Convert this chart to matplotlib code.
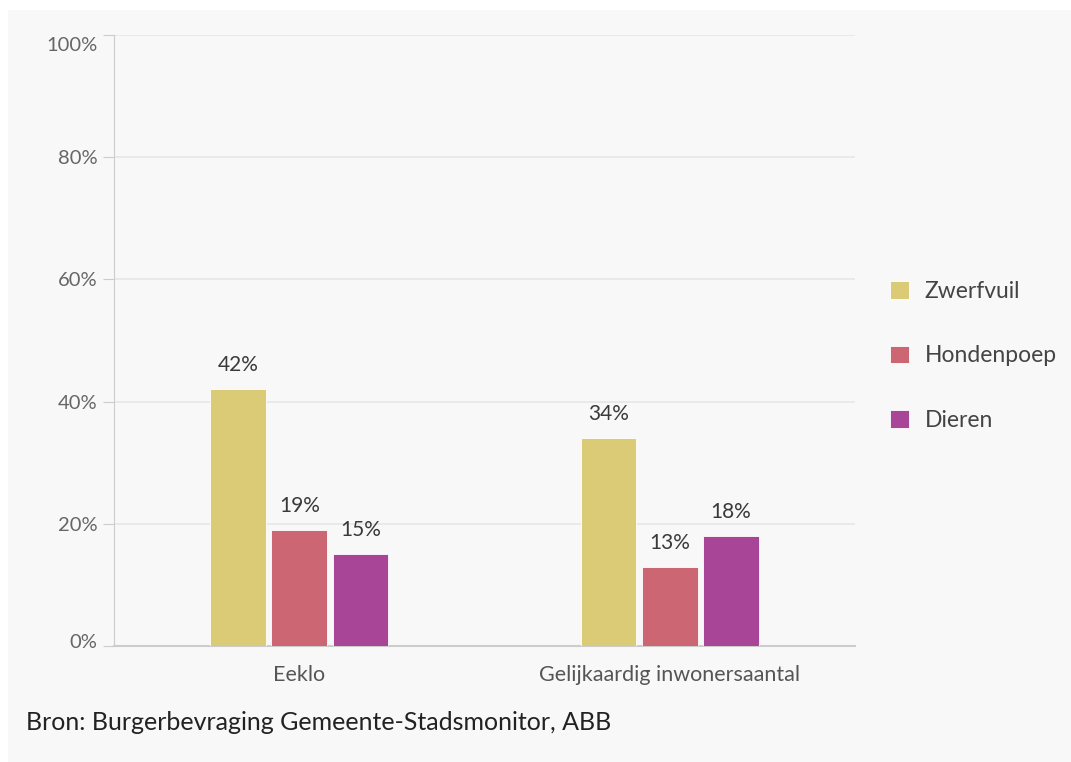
import matplotlib

matplotlib.use("Agg")
import matplotlib.pyplot as plt
import matplotlib.transforms as mtransforms
from matplotlib.patches import Rectangle
import numpy as np

categories = ["Eeklo", "Gelijkaardig inwonersaantal"]
series_names = ["Zwerfvuil", "Hondenpoep", "Dieren"]
zwerfvuil = [42, 34]
hondenpoep = [19, 13]
dieren = [15, 18]
yticks = [0, 20, 40, 60, 80, 100]

colors = ["#dccb76", "#cc6672", "#a84596"]
plt.rcParams["font.family"] = ["Lato", "DejaVu Sans"]

W, H = 1071, 762
fig = plt.figure(figsize=(W / 100, H / 100), dpi=100)
fig.patch.set_facecolor("white")
fig.patches.append(Rectangle((8 / W, 0), 1 - 8 / W, 1 - 10 / H, transform=fig.transFigure,
                             facecolor="#f8f8f8", edgecolor="none", zorder=-10))

ax = fig.add_axes([114 / W, 1 - 646 / H, (855 - 114) / W, (646 - 35) / H])
ax.set_facecolor("#f8f8f8")

x = np.arange(len(categories))
bw = 0.15
step = 0.165
for i, (name, vals) in enumerate(zip(series_names, [zwerfvuil, hondenpoep, dieren])):
    pos = x + (i - 1) * step
    ax.bar(pos, vals, width=bw, color=colors[i], edgecolor="white", linewidth=0.6,
           label=name, zorder=3)
    for px, v in zip(pos, vals):
        ax.text(px, v + 2.3, f"{v}%", ha="center", va="bottom", fontsize=15,
                color="#3a3a3a", zorder=4)

ax.set_xlim(-0.5, 1.5)
ax.set_ylim(0, 100)
ax.set_yticks(yticks)
ax.set_yticklabels([f"{t}%" for t in yticks], fontsize=14.5, color="#666666")
ax.set_xticks(x)
ax.set_xticklabels(categories, fontsize=15.5, color="#555555")
ax.tick_params(axis="x", length=0, pad=14)
ax.tick_params(axis="y", length=8, color="#cccccc", pad=4)
ax.grid(axis="y", color="#e6e6e6", linewidth=1.2, zorder=0)
for s in ["top", "right"]:
    ax.spines[s].set_visible(False)
ax.spines["left"].set_color("#cccccc")
ax.spines["bottom"].set_color("#cccccc")
ax.spines["bottom"].set_linewidth(1.5)

# outer tick labels sit slightly inside the axis range
labels = ax.get_yticklabels()
labels[0].set_transform(labels[0].get_transform()
                        + mtransforms.ScaledTranslation(0, 5 / 100, fig.dpi_scale_trans))
labels[-1].set_transform(labels[-1].get_transform()
                         + mtransforms.ScaledTranslation(0, -9 / 100, fig.dpi_scale_trans))

ax.legend(loc="center left", bbox_to_anchor=(1.02, 0.475), frameon=False, fontsize=16.5,
          handlelength=0.8, handleheight=0.8, handletextpad=0.7, labelspacing=1.9,
          labelcolor="#444444")

fig.text(26 / W, 1 - 723 / H, "Bron: Burgerbevraging Gemeente-Stadsmonitor, ABB",
         fontsize=18, color="#222222", va="center", ha="left")

fig.savefig("out.png", dpi=100, facecolor=fig.get_facecolor())
